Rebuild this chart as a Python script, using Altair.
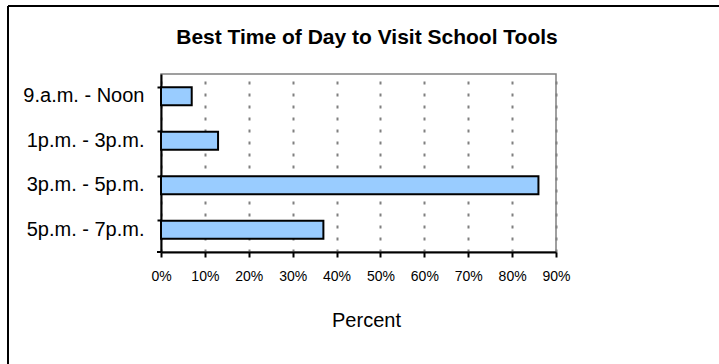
import altair as alt
import pandas as pd

categories = ["9.a.m. - Noon", "1p.m. - 3p.m.", "3p.m. - 5p.m.", "5p.m. - 7p.m."]
percents = [0.07, 0.13, 0.86, 0.37]
tick_values = [0.0, 0.1, 0.2, 0.3, 0.4, 0.5, 0.6, 0.7, 0.8, 0.9]
chart_title = ["Best Time of Day to Visit School Tools"]

df = pd.DataFrame({"slot": categories, "pct": percents})
one = pd.DataFrame({"a": [0]})
title_df = pd.DataFrame({"t": chart_title})

FONT = "Liberation Sans"
W, H = 395, 178
L, T = 161, 74

bars = alt.Chart(df).mark_bar(fill="#99CCFF", stroke="black", strokeWidth=2).encode(
    x=alt.X(
        "pct:Q",
        scale=alt.Scale(domain=[0, 0.9], nice=False),
        axis=alt.Axis(
            values=tick_values, format=".0%", title="Percent",
            labelFontSize=14, labelFont=FONT, labelColor="black", labelPadding=12,
            labelFlush=False, labelOverlap=False,
            tickSize=5, tickWidth=2, tickColor="black",
            domainColor="black", domainWidth=2,
            grid=True, gridColor="#808080", gridDash=[3, 9], gridWidth=2,
            titleFontSize=20, titleFont=FONT, titleFontWeight="normal",
            titleColor="black", titlePadding=27, titleX=205,
        ),
    ),
    y=alt.Y(
        "slot:N", sort=categories,
        scale=alt.Scale(paddingInner=0.6, paddingOuter=0.3),
        axis=alt.Axis(
            title=None, bandPosition=0, grid=False,
            labelFontSize=20, labelFont=FONT, labelColor="black", labelPadding=13,
            tickSize=4, tickWidth=2, tickColor="black",
            domainColor="black", domainWidth=2,
        ),
    ),
)

title = alt.Chart(title_df).mark_text(
    font=FONT, fontSize=21, fontWeight="bold", color="black",
    align="center", baseline="alphabetic",
).encode(text="t:N", x=alt.value(367 - L), y=alt.value(44 - T))

bottom_tick = alt.Chart(one).mark_rule(color="black", strokeWidth=2).encode(
    x=alt.value(-4), x2=alt.value(0), y=alt.value(H)
)

frame_left = alt.Chart(one).mark_rule(color="black", strokeWidth=2).encode(
    x=alt.value(8 - L), y=alt.value(6 - T), y2=alt.value(364 - T)
)
frame_top = alt.Chart(one).mark_rule(color="black", strokeWidth=2).encode(
    x=alt.value(8 - L), x2=alt.value(719 - L), y=alt.value(6 - T)
)

chart = alt.layer(bars, title, bottom_tick, frame_left, frame_top).properties(
    width=W, height=H,
    padding={"left": L, "top": T, "right": 719 - L - W, "bottom": 364 - T - H},
    autosize="none",
    background="white",
).configure_view(stroke="#808080", strokeWidth=1.5)

chart.save("out.html", embed_options={"renderer": "svg", "actions": False})
